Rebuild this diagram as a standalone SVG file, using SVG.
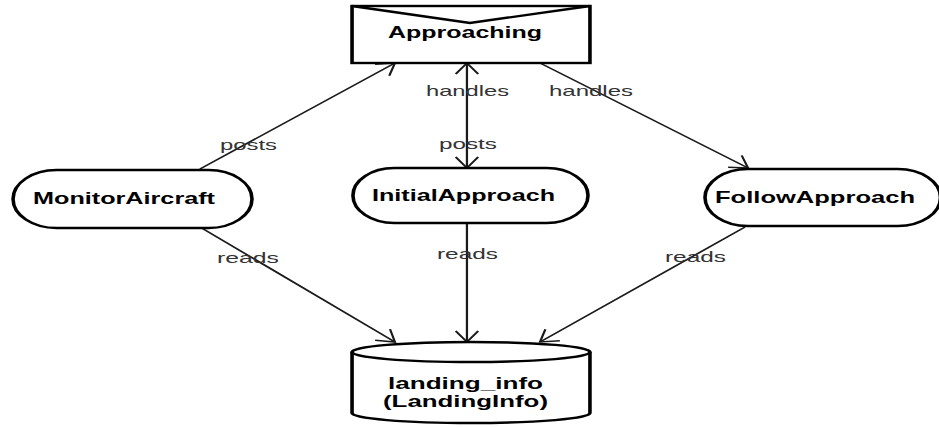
<svg xmlns="http://www.w3.org/2000/svg" width="939" height="427" viewBox="0 0 939 427">
  <style>
    .shape { fill: #ffffff; stroke: #000000; stroke-width: 2.4; }
    .edge { fill: none; stroke: #1a1a1a; stroke-width: 1.5; }
    .node-label { font-family: "Liberation Sans", Arial, sans-serif; font-weight: bold; font-size: 17px; fill: #000000; }
    .edge-label { font-family: "Liberation Sans", Arial, sans-serif; font-size: 15px; fill: #333333; }
  </style>
  <defs>
    <!-- open V arrowhead, drawn in the shared 1.5x horizontally stretched space -->
    <marker id="arrow" markerUnits="userSpaceOnUse" markerWidth="20" markerHeight="20" viewBox="-14 -10 16 20" refX="0" refY="0" orient="auto">
      <path d="M-11,-7.5 L0,0 L-11,7.5" fill="none" stroke="#1a1a1a" stroke-width="1.5"/>
    </marker>
    <marker id="arrow-start" markerUnits="userSpaceOnUse" markerWidth="20" markerHeight="20" viewBox="-2 -10 16 20" refX="0" refY="0" orient="auto">
      <path d="M11,-7.5 L0,0 L11,7.5" fill="none" stroke="#1a1a1a" stroke-width="1.5"/>
    </marker>
  </defs>

  <rect x="0" y="0" width="939" height="427" fill="#ffffff"/>

  <!-- connectors: geometry laid out in a 1.5x horizontally stretched space -->
  <g id="connectors">
    <g transform="scale(1.5,1)">
      <line class="edge" x1="133.3" y1="169" x2="263.3" y2="63" marker-end="url(#arrow)"/>
      <line class="edge" x1="311.3" y1="63" x2="311.3" y2="168" marker-start="url(#arrow-start)" marker-end="url(#arrow)"/>
      <line class="edge" x1="360" y1="63" x2="498.7" y2="168" marker-end="url(#arrow)"/>
      <line class="edge" x1="133.3" y1="227" x2="263.3" y2="342" marker-end="url(#arrow)"/>
      <line class="edge" x1="311.3" y1="223" x2="311.3" y2="342" marker-end="url(#arrow)"/>
      <line class="edge" x1="496.7" y1="227" x2="360" y2="342" marker-end="url(#arrow)"/>
    </g>
    <text class="edge-label" x="220" y="150" textLength="57" lengthAdjust="spacingAndGlyphs">posts</text>
    <text class="edge-label" x="426" y="96" textLength="83" lengthAdjust="spacingAndGlyphs">handles</text>
    <text class="edge-label" x="439" y="149" textLength="58" lengthAdjust="spacingAndGlyphs">posts</text>
    <text class="edge-label" x="549" y="96" textLength="84" lengthAdjust="spacingAndGlyphs">handles</text>
    <text class="edge-label" x="217" y="263" textLength="62" lengthAdjust="spacingAndGlyphs">reads</text>
    <text class="edge-label" x="437" y="259" textLength="61" lengthAdjust="spacingAndGlyphs">reads</text>
    <text class="edge-label" x="665" y="262" textLength="61" lengthAdjust="spacingAndGlyphs">reads</text>
  </g>

  <!-- event: Approaching -->
  <g id="approaching">
    <g transform="scale(1.5,1)">
      <rect class="shape" x="234.7" y="6" width="158.6" height="57"/>
      <polyline class="shape" points="234.7,6 313.3,23 393.3,6" style="fill:none"/>
    </g>
    <text class="node-label" x="388" y="38" textLength="154" lengthAdjust="spacingAndGlyphs">Approaching</text>
  </g>

  <!-- process: MonitorAircraft -->
  <g id="monitor-aircraft">
    <g transform="scale(1.5,1)">
      <rect class="shape" x="8.7" y="170" width="159.3" height="58" rx="29" ry="29"/>
    </g>
    <text class="node-label" x="33" y="204" textLength="182" lengthAdjust="spacingAndGlyphs">MonitorAircraft</text>
  </g>

  <!-- process: InitialApproach -->
  <g id="initial-approach">
    <g transform="scale(1.5,1)">
      <rect class="shape" x="235.3" y="168" width="156.7" height="55" rx="27.5" ry="27.5"/>
    </g>
    <text class="node-label" x="372" y="201" textLength="183" lengthAdjust="spacingAndGlyphs">InitialApproach</text>
  </g>

  <!-- process: FollowApproach -->
  <g id="follow-approach">
    <g transform="scale(1.5,1)">
      <rect class="shape" x="470" y="169" width="157" height="57" rx="28.5" ry="28.5"/>
    </g>
    <text class="node-label" x="715" y="203" textLength="200" lengthAdjust="spacingAndGlyphs">FollowApproach</text>
  </g>

  <!-- data store: landing_info -->
  <g id="landing-info">
    <g transform="scale(1.5,1)">
      <path class="shape" d="M234.7,352 L234.7,413 A79.3,10 0 0 0 393.3,413 L393.3,352 A79.3,10 0 0 0 234.7,352 Z"/>
      <path class="shape" d="M234.7,352 A79.3,10 0 0 0 393.3,352" style="fill:none"/>
    </g>
    <text class="node-label" x="388" y="389" textLength="155" lengthAdjust="spacingAndGlyphs">landing_info</text>
    <text class="node-label" x="383" y="407" textLength="165" lengthAdjust="spacingAndGlyphs">(LandingInfo)</text>
  </g>
</svg>
